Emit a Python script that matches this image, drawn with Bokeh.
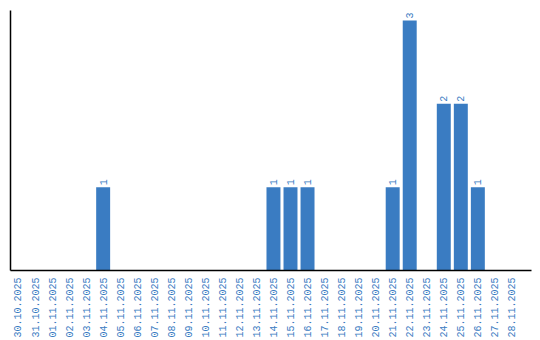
import math
from bokeh.plotting import figure
from bokeh.models import ColumnDataSource, Range1d, FixedTicker, LinearAxis
from bokeh.core.properties import value
from bokeh.embed import file_html
from bokeh.resources import INLINE

dates = ["30.10.2025", "31.10.2025", "01.11.2025", "02.11.2025", "03.11.2025",
         "04.11.2025", "05.11.2025", "06.11.2025", "07.11.2025", "08.11.2025",
         "09.11.2025", "10.11.2025", "11.11.2025", "12.11.2025", "13.11.2025",
         "14.11.2025", "15.11.2025", "16.11.2025", "17.11.2025", "18.11.2025",
         "19.11.2025", "20.11.2025", "21.11.2025", "22.11.2025", "23.11.2025",
         "24.11.2025", "25.11.2025", "26.11.2025", "27.11.2025", "28.11.2025"]
counts = [0, 0, 0, 0, 0,
          1, 0, 0, 0, 0,
          0, 0, 0, 0, 0,
          1, 1, 1, 0, 0,
          0, 0, 1, 3, 0,
          2, 2, 1, 0, 0]

BLUE = "#3a7cc2"
FONT = "Liberation Mono"

xs = list(range(len(dates)))
src = ColumnDataSource(dict(x=xs, top=counts))
nz = [i for i, c in enumerate(counts) if c > 0]
lbl = ColumnDataSource(dict(x=[xs[i] for i in nz], y=[counts[i] for i in nz],
                            t=[str(counts[i]) for i in nz]))

p = figure(width=540, height=340, output_backend="svg", toolbar_location=None,
           x_range=Range1d(-0.44, 30.15), y_range=Range1d(0, 3.12),
           x_axis_type=None, y_axis_type=None,
           min_border_left=10, min_border_right=9, min_border_top=10, min_border_bottom=70)
p.outline_line_color = None
p.grid.visible = False
p.background_fill_color = "white"
p.border_fill_color = "white"

p.vbar(x="x", top="top", width=0.82, source=src, color=BLUE, line_color=None)
p.text(x="x", y="y", text="t", source=lbl, angle=math.pi / 2,
       text_align="left", text_baseline="middle", y_offset=-2,
       text_font=value(FONT), text_font_size="10px", text_color=BLUE)

xaxis = LinearAxis(ticker=FixedTicker(ticks=xs),
                   major_label_overrides={i: d for i, d in enumerate(dates)})
xaxis.major_label_orientation = math.pi / 2
xaxis.major_tick_line_color = None
xaxis.minor_tick_line_color = None
xaxis.major_tick_out = 0
xaxis.major_tick_in = 0
xaxis.major_label_standoff = 7
xaxis.major_label_text_font = FONT
xaxis.major_label_text_font_size = "10px"
xaxis.major_label_text_color = BLUE
xaxis.axis_line_color = "black"
xaxis.axis_line_width = 1.5
p.add_layout(xaxis, "below")

yaxis = LinearAxis(ticker=FixedTicker(ticks=[]))
yaxis.major_tick_line_color = None
yaxis.minor_tick_line_color = None
yaxis.major_tick_out = 0
yaxis.major_tick_in = 0
yaxis.major_label_text_font_size = "0px"
yaxis.axis_line_color = "black"
yaxis.axis_line_width = 1.5
p.add_layout(yaxis, "left")

open("out.html", "w").write(file_html(p, INLINE))
